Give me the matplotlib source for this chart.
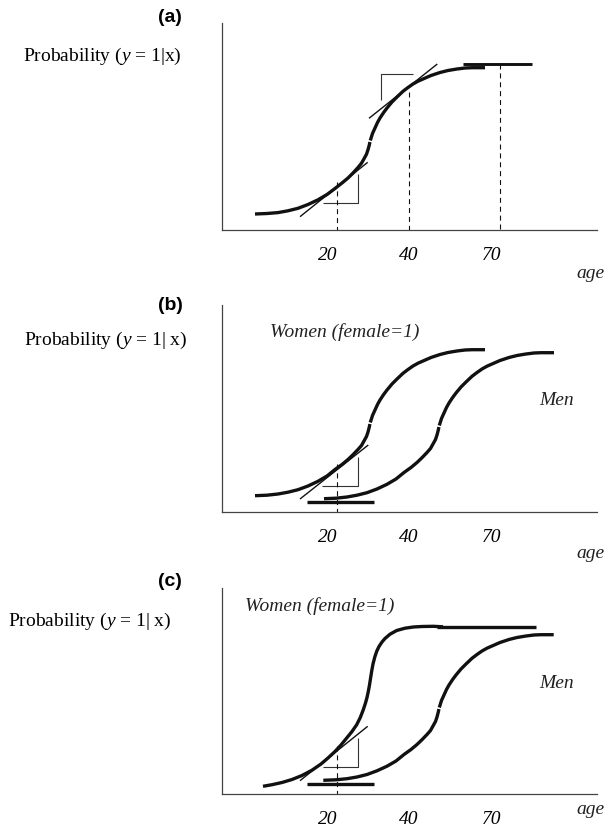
import matplotlib
matplotlib.use("Agg")
import matplotlib.pyplot as plt

plt.rcParams['font.family'] = ['Liberation Serif', 'DejaVu Serif']
plt.rcParams['mathtext.fontset'] = 'custom'
plt.rcParams['mathtext.rm'] = 'Liberation Serif'
plt.rcParams['mathtext.it'] = 'Liberation Serif:italic'

# units: pixels from the axis origin of each panel
tick_pos = [105.6, 187, 270]
tick_labels = ['20', '40', '70']

# panel (a): one curve, split where the original shows a slit
a_lo_x = [33, 45, 56, 66, 76, 86, 96, 105, 113, 120, 126, 131, 136, 139.5, 142, 144.5, 146, 147.3, 147.9]
a_lo_y = [16, 16.5, 17.4, 19.2, 21.7, 25.5, 30.2, 35.5, 41.5, 47, 52, 57, 62.5, 66.8, 71.2, 75.8, 80.3, 85, 88]
a_hi_x = [148.3, 150.5, 153, 155.5, 158, 161.5, 165, 170, 175, 181, 186, 191, 196, 201, 209, 218,
          226, 235, 243, 250, 263]
a_hi_y = [89.5, 96.5, 102, 107.5, 112, 117.3, 122, 128, 133, 138.7, 142.5, 146, 148.8, 151, 154.5,
          157.5, 159.5, 161, 162, 162.3, 162.3]

# panel (b): women and men
bw_lo_x = [33, 45, 56, 66, 76, 86, 96, 105, 113, 120, 126, 131, 136, 139.5, 142, 144.5, 146, 147.3, 147.9]
bw_lo_y = [16.3, 16.8, 18, 19.8, 22.3, 26, 30.7, 36, 42.5, 47.5, 52.5, 57.3, 62.5, 66.5, 71, 75.5,
           80, 85, 88]
bw_hi_x = [148.3, 150.5, 153, 155.5, 158, 161.5, 165, 170, 175, 181, 186, 191, 196, 201, 209, 218,
           226, 235, 243, 250, 263]
bw_hi_y = [89.5, 96.5, 102, 107.5, 112, 117.3, 122, 128, 133, 138.7, 142.5, 146, 148.8, 151, 154.5,
           157.5, 159.5, 161, 162, 162.3, 162.3]
bm_lo_x = [102, 114, 125, 135, 145, 155, 165, 174, 182, 189, 195, 200, 205, 208.5, 211, 213.5, 215,
           216.3, 216.9]
bm_lo_y = [13.3, 13.8, 15, 16.8, 19.3, 23, 27.7, 33, 39.5, 44.5, 49.5, 54.3, 59.5, 63.5, 68, 72.5,
           77, 82, 85]
bm_hi_x = [217.3, 219.5, 222, 224.5, 227, 230.5, 234, 239, 244, 250, 255, 260, 265, 270, 278, 287,
           295, 304, 312, 319, 332]
bm_hi_y = [86.5, 93.5, 99, 104.5, 109, 114.3, 119, 125, 130, 135.7, 139.5, 143, 145.8, 148, 151.5,
           154.5, 156.5, 158, 159, 159.3, 159.3]

# panel (c): women steeper, men as in (b)
cw_x = [41, 50, 60, 70, 80, 90, 99, 106, 113, 119, 124.7, 130, 134.7, 138.3, 141.3, 143.5, 145,
        146.3, 147.5, 148.6, 149.7, 151, 152.8, 154.7, 157, 160, 163, 168, 174.7, 183, 191.3,
        200, 211.3, 221]
cw_y = [7.7, 9.3, 11.5, 14.5, 18.5, 23.8, 30, 36, 42.5, 49, 56, 62.5, 69.3, 76.5, 84.3, 91, 96.5,
        102.5, 109, 116, 123, 130, 137, 142.7, 147.5, 152, 155.5, 159.8, 163.5, 165.8, 167,
        167.5, 167.7, 167.2]
cm_lo_x = [101.3, 114, 125, 135, 145, 155, 165, 174, 182, 189, 195, 200, 205, 208.5, 211, 213.5,
           215, 216.3, 216.9]
cm_lo_y = [13.7, 14.2, 15.3, 17, 19.5, 23.2, 27.8, 33, 39.5, 44.5, 49.5, 54.3, 59.5, 63.5, 68,
           72.5, 77, 82, 85]
cm_hi_x = [217.3, 219.5, 222, 224.5, 227, 230.5, 234, 239, 244, 250, 255, 260, 265, 270, 278, 287,
           295, 304, 312, 319, 331.7]
cm_hi_y = [86.5, 93.5, 99, 104.5, 109, 114.3, 119, 125, 130, 135.7, 139.5, 143, 145.8, 148, 151.5,
           154.5, 156.5, 158, 159, 159.3, 159.3]

# tangent lines, slope triangles, dashed guides, flat tangents
tan_lo = ([78, 145.7], [13.3, 67.7])
tri_lo = ([100.7, 136.3, 136.3], [26.7, 26.7, 55.7])
tan_hi_a = ([147, 215.3], [111.7, 166])
tri_hi_a = ([158.7, 158.7, 191.3], [130, 156, 156])
dash_a = [(114.7, 48.3), (187.3, 138.3), (278, 166)]
flat_a = ([241.3, 310], [166, 166])
dash_bc = (114.7, 48.5)
flat_bc = ([84.5, 152.3], [10.5, 10.5])
flat_top_c = ([215, 314], [166.7, 166.7])

W, H = 608, 827
fig = plt.figure(figsize=(W / 100, H / 100), dpi=100)

THICK = 2.4
ink = '#111111'
grey = '#333333'


def make_axes(axis_y, top_y):
    ax = fig.add_axes([222 / W, (H - axis_y) / H, 375 / W, (axis_y - top_y) / H])
    ax.set_xlim(0, 375)
    ax.set_ylim(0, axis_y - top_y)
    for s in ['top', 'right']:
        ax.spines[s].set_visible(False)
    for s in ['left', 'bottom']:
        ax.spines[s].set_color('#444444')
        ax.spines[s].set_linewidth(0.9)
    ax.set_yticks([])
    ax.set_xticks(tick_pos, tick_labels)
    ax.tick_params(axis='x', length=0, pad=12.5, labelsize=14)
    for t in ax.get_xticklabels():
        t.set_fontstyle('italic')
    return ax


def thick(ax, x, y, lw=THICK):
    ax.plot(x, y, color=ink, lw=lw, solid_capstyle='butt', solid_joinstyle='round', clip_on=False)


def thin(ax, x, y, lw=1.0, color=ink):
    ax.plot(x, y, color=color, lw=lw, solid_capstyle='butt', clip_on=False)


def dashed(ax, x, ytop):
    ax.plot([x, x], [ytop, 0], color=ink, lw=0.8, dashes=(4.5, 3.5), clip_on=False)


prob_kw = dict(fontsize=14, ha='left', va='center')
it_kw = dict(fontsize=14, fontstyle='italic', color='#222222')
lab_kw = dict(fontsize=14, fontweight='bold', family='Liberation Sans', ha='center', va='center')

# ---- (a)
ax = make_axes(230, 23)
thick(ax, a_lo_x, a_lo_y)
thick(ax, a_hi_x, a_hi_y)
thin(ax, *tan_lo)
thin(ax, *tri_lo, lw=0.8, color=grey)
thin(ax, *tan_hi_a)
thin(ax, *tri_hi_a, lw=0.8, color=grey)
for x, yt in dash_a:
    dashed(ax, x, yt)
thick(ax, *flat_a, lw=2.1)
ax.text(-52, 213, '(a)', **lab_kw)
ax.text(-199.3, 173.3, r'Probability ($y$ = 1|x)', **prob_kw)
ax.text(383, -43, 'age', ha='right', va='center', **it_kw)

# ---- (b)
ax = make_axes(512, 305)
thick(ax, bw_lo_x, bw_lo_y)
thick(ax, bw_hi_x, bw_hi_y)
thick(ax, bm_lo_x, bm_lo_y)
thick(ax, bm_hi_x, bm_hi_y)
thin(ax, [78, 146.3], [13, 67])
thin(ax, [100.3, 136.3, 136.3], [26.3, 26.3, 55.3], lw=0.8, color=grey)
dashed(ax, *dash_bc)
thick(ax, *flat_bc)
ax.text(-52, 207, '(b)', **lab_kw)
ax.text(-198, 172, r'Probability ($y$ = 1| x)', **prob_kw)
ax.text(48, 180.3, 'Women (female=1)', ha='left', va='center', **it_kw)
ax.text(317.7, 111.3, 'Men', ha='left', va='center', **it_kw)
ax.text(383, -42, 'age', ha='right', va='center', **it_kw)

# ---- (c)
ax = make_axes(794, 588)
thick(ax, cw_x, cw_y)
thick(ax, *flat_top_c)
thick(ax, cm_lo_x, cm_lo_y)
thick(ax, cm_hi_x, cm_hi_y)
thin(ax, *tan_lo)
thin(ax, [100.7, 136.3, 136.3], [27, 27, 56], lw=0.8, color=grey)
dashed(ax, *dash_bc)
thick(ax, *flat_bc)
ax.text(-52, 212.3, '(c)', **lab_kw)
ax.text(-214, 172.3, r'Probability ($y$ = 1| x)', **prob_kw)
ax.text(23, 188, 'Women (female=1)', ha='left', va='center', **it_kw)
ax.text(317, 110.7, 'Men', ha='left', va='center', **it_kw)
ax.text(383, -16, 'age', ha='right', va='center', **it_kw)

fig.savefig('out.png', dpi=100, facecolor='white')
